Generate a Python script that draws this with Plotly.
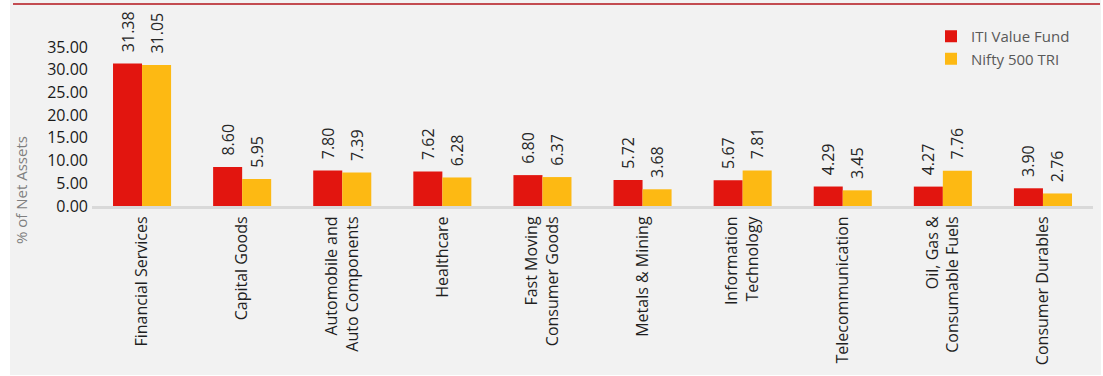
import plotly.graph_objects as go

categories = [
    "Financial Services",
    "Capital Goods",
    "Automobile and<br>Auto Components",
    "Healthcare",
    "Fast Moving<br>Consumer Goods",
    "Metals & Mining",
    "Information<br>Technology",
    "Telecommunication",
    "Oil, Gas &<br>Consumable Fuels",
    "Consumer Durables",
]
iti_value_fund = [31.38, 8.60, 7.80, 7.62, 6.80, 5.72, 5.67, 4.29, 4.27, 3.90]
nifty_500_tri = [31.05, 5.95, 7.39, 6.28, 6.37, 3.68, 7.81, 3.45, 7.76, 2.76]
y_ticks = [0, 5, 10, 15, 20, 25, 30, 35]

RED = "#E2150F"
YELLOW = "#FDB913"
FONT = "Open Sans"

PW, PH = 1001, 159  # plot area size in px
L, T = 92, 47


def px(xp):
    return (xp - L) / PW


def py(yp):
    return (T + PH - yp) / PH


fig = go.Figure()
for name, vals, col in [("ITI Value Fund", iti_value_fund, RED),
                        ("Nifty 500 TRI", nifty_500_tri, YELLOW)]:
    fig.add_trace(go.Bar(
        name=name, x=categories, y=vals, marker=dict(color=col, line=dict(width=0)),
        texttemplate="\u00a0\u00a0%{y:.2f}", textposition="outside", textangle=-90,
        textfont=dict(family=FONT, size=16, color="#262626"),
        cliponaxis=False, constraintext="none",
    ))

fig.update_layout(
    width=1103, height=376,
    paper_bgcolor="white", plot_bgcolor="rgba(0,0,0,0)",
    margin=dict(l=L, r=1103 - L - PW, t=T, b=376 - T - PH, autoexpand=False),
    barmode="group", bargap=0.42, bargroupgap=0,
    font=dict(family=FONT),
    showlegend=True,
    legend=dict(
        xref="paper", yref="paper", x=px(931), y=py(20),
        xanchor="left", yanchor="top",
        font=dict(family=FONT, size=15, color="#595959"),
        bgcolor="rgba(0,0,0,0)", tracegroupgap=0,
    ),
    xaxis=dict(
        showline=True, linecolor="#D9D9D9", linewidth=3,
        tickangle=-90, ticks="", ticklabelstandoff=1,
        tickfont=dict(family=FONT, size=16, color="#1f1f1f"),
        showgrid=False,
    ),
    yaxis=dict(
        range=[0, 35], tickvals=y_ticks, tickformat=".2f",
        showgrid=False, zeroline=False, showline=False, ticks="",
        ticklabelstandoff=3,
        tickfont=dict(family=FONT, size=16, color="#1a1a1a"),
    ),
    shapes=[
        dict(type="rect", xref="paper", yref="paper", layer="below",
             x0=px(10), x1=px(1101), y0=py(375), y1=py(0),
             fillcolor="#F2F2F2", line=dict(width=0)),
        dict(type="line", xref="paper", yref="paper",
             x0=px(13), x1=px(1100), y0=py(4), y1=py(4),
             line=dict(color="#B3151B", width=1.5)),
    ],
    annotations=[
        dict(text="% of Net Assets", xref="paper", yref="paper",
             x=px(21), y=py(190), textangle=-90, showarrow=False,
             xanchor="center", yanchor="middle",
             font=dict(family=FONT, size=15, color="#7F7F7F")),
    ],
)

fig.write_html(
    "out.html",
    config={"displayModeBar": False},
    post_script="document.body.style.margin='0';document.body.style.padding='0';"
                "document.documentElement.style.overflow='hidden';",
)
